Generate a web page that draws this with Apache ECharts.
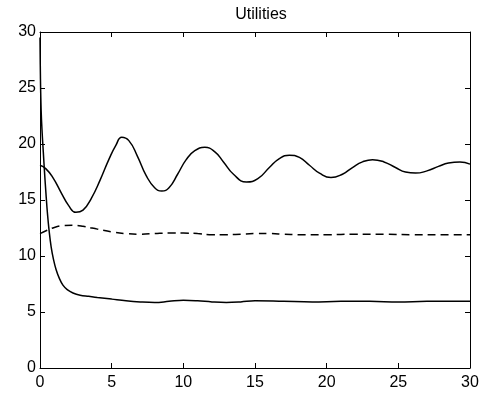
<!DOCTYPE html>
<html>
<head>
<meta charset="utf-8">
<script src="https://cdn.jsdelivr.net/npm/echarts@6/dist/echarts.min.js"></script>
<style>
  html, body { margin: 0; padding: 0; background: #fff; }
  #chart { width: 485px; height: 399px; }
</style>
</head>
<body>
<div id="chart"></div>
<script>
// oscillating utility (solid)
const tOsc = [0, 0.4, 0.9, 1.5, 2.0, 2.5, 3.0, 3.6, 4.2, 4.8, 5.3, 5.7, 6.2, 6.8, 7.4, 8.0, 8.5, 9.0, 9.6, 10.2, 10.8, 11.5, 12.2, 12.8, 13.5, 14.4, 15.2, 16.0, 16.7, 17.4, 18.1, 18.8, 19.5, 20.3, 21.1, 21.8, 22.5, 23.2, 24.0, 24.8, 25.5, 26.2, 27.0, 27.8, 28.5, 29.3, 30]
const vOsc = [18.1, 17.8, 17.0, 15.6, 14.5, 13.9, 14.1, 15.2, 16.8, 18.6, 19.9, 20.6, 20.3, 18.9, 17.2, 16.1, 15.8, 16.1, 17.3, 18.6, 19.4, 19.7, 19.3, 18.4, 17.3, 16.6, 16.9, 17.9, 18.7, 19.0, 18.8, 18.1, 17.4, 17.0, 17.3, 17.9, 18.4, 18.6, 18.4, 17.9, 17.5, 17.4, 17.6, 18.0, 18.3, 18.4, 18.2]

// middle utility (dashed)
const tMid = [0, 0.5, 1, 1.5, 2.3, 3, 4, 5, 6, 7, 8, 9, 10, 11, 12, 13, 14, 15, 16, 17, 18, 20, 22, 24, 26, 28, 30]
const vMid = [12.0, 12.3, 12.55, 12.7, 12.75, 12.65, 12.4, 12.15, 12.0, 11.95, 12.0, 12.05, 12.05, 12.0, 11.9, 11.9, 11.95, 12.0, 12.0, 11.95, 11.9, 11.9, 11.95, 11.95, 11.9, 11.9, 11.9]

// decaying utility (solid)
const tLow = [0, 0.03, 0.08, 0.15, 0.23, 0.32, 0.42, 0.52, 0.64, 0.78, 0.94, 1.12, 1.35, 1.6, 1.9, 2.3, 2.8, 3.4, 4, 5, 6, 7, 8, 9, 10, 11, 12, 13, 14, 15, 17, 19, 21, 23, 25, 27, 30]
const vLow = [29.5, 26.0, 23.0, 21.0, 19.3, 17.4, 15.5, 13.8, 12.2, 10.8, 9.7, 8.8, 8.0, 7.4, 7.0, 6.7, 6.5, 6.4, 6.3, 6.15, 6.0, 5.9, 5.85, 5.95, 6.05, 6.0, 5.9, 5.85, 5.9, 6.0, 5.95, 5.9, 5.95, 5.95, 5.9, 5.95, 5.95]

const xTicks = [0, 5, 10, 15, 20, 25, 30]
const yTicks = [0, 5, 10, 15, 20, 25, 30]

const pairs = (t, v) => t.map((x, i) => [x, v[i]])

const chart = echarts.init(document.getElementById("chart"), null, { renderer: "canvas" })

const font = "Liberation Sans, Arial, sans-serif"
const axisLine = { show: true, onZero: false, lineStyle: { color: "#000", width: 1 } }
const tick = { show: true, inside: true, length: 5, lineStyle: { color: "#000" } }

const baseX = {
  type: "value",
  min: xTicks[0],
  max: xTicks[xTicks.length - 1],
  interval: 5,
  axisLine,
  axisTick: tick,
  splitLine: { show: false },
}
const baseY = {
  type: "value",
  min: yTicks[0],
  max: yTicks[yTicks.length - 1],
  interval: 5,
  axisLine,
  axisTick: tick,
  splitLine: { show: false },
}

const lineSeries = (name, data, type, smooth) => ({
  name,
  type: "line",
  showSymbol: false,
  smooth,
  data,
  lineStyle: { color: "#000", width: 1.5, type },
  animation: false,
})

chart.setOption({
  backgroundColor: "#fff",
  title: {
    text: "Utilities",
    left: 256,
    top: 2,
    textAlign: "center",
    textStyle: { fontFamily: font, fontSize: 16, fontWeight: "normal", color: "#000" },
  },
  grid: { left: 40, right: 15, top: 32, bottom: 31 },
  xAxis: [
    { ...baseX, position: "bottom",
      axisLabel: { color: "#000", fontFamily: font, fontSize: 16, margin: 7 } },
    { ...baseX, position: "top", axisLabel: { show: false } },
  ],
  yAxis: [
    { ...baseY, position: "left",
      axisLabel: { color: "#000", fontFamily: font, fontSize: 16, margin: 4 } },
    { ...baseY, position: "right", axisLabel: { show: false } },
  ],
  series: [
    lineSeries("oscillating", pairs(tOsc, vOsc), "solid", 0.5),
    lineSeries("middle", pairs(tMid, vMid), [8, 5], 0.4),
    lineSeries("decaying", pairs(tLow, vLow), "solid", 0.4),
  ],
})
</script>
</body>
</html>
